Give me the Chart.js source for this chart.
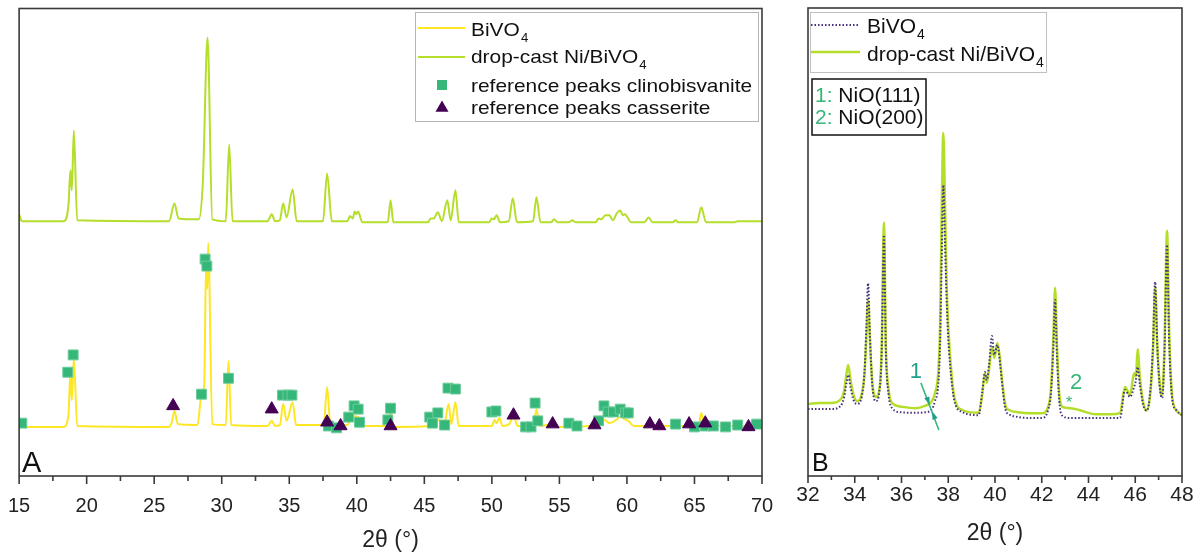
<!DOCTYPE html>
<html>
<head>
<meta charset="utf-8">
<script src="https://cdn.jsdelivr.net/npm/chart.js@4.4.1/dist/chart.umd.min.js"></script>
<style>
  html, body { margin: 0; padding: 0; background: #fff; overflow: hidden; }
  #wrap { position: relative; width: 1200px; height: 556px; overflow: hidden; }
  #chartA { position: absolute; left: -10px; top: 0; }
  #chartB { position: absolute; left: 789px; top: 0; }
</style>
</head>
<body>
<div id="wrap">
  <canvas id="chartA" width="803" height="556"></canvas>
  <canvas id="chartB" width="412" height="556"></canvas>
</div>
<script>
// ---- Panel A data (2theta in degrees, intensity in a.u., patterns offset) ----
var thetaA_bivo = [15.0, 18.3, 18.65, 18.8, 18.9, 19.05, 19.3, 26.1, 26.3, 26.5, 26.75, 28.2, 28.5, 28.7, 28.85, 28.93, 29.0, 29.3,
    30.3, 30.5, 30.7, 33.4, 33.7, 33.95, 34.3, 34.55, 34.8, 35.25, 35.5, 37.55, 37.8, 38.05, 39.3, 39.55, 39.85, 40.1, 40.4,
    42.3, 42.5, 42.7, 45.4, 45.7, 46.1, 46.45, 46.8, 47.0, 47.3, 47.55, 50.0, 50.2, 50.35, 50.55, 50.8, 51.3, 51.6, 51.9,
    53.1, 53.3, 53.55, 54.6, 54.85, 58.0, 58.35, 58.7, 59.3, 59.55, 59.8, 60.1, 60.5, 65.3, 65.5, 65.75, 70.0];
var intA_bivo = [10.5, 10.5, 13.0, 22.2, 16.2, 25.2, 10.7, 10.5, 11.5, 13.9, 11.1, 10.9, 17.3, 19.4, 46.5, 40.0, 49.8, 11.1,
    10.9, 24.6, 10.9, 10.7, 11.8, 10.7, 10.9, 15.4, 11.8, 15.8, 10.9, 10.9, 19.0, 10.9, 10.9, 12.4, 12.8, 12.6, 10.7,
    10.7, 13.9, 10.5, 10.7, 11.3, 12.0, 10.7, 15.4, 11.1, 15.8, 10.7, 10.7, 12.0, 11.3, 12.4, 10.7, 11.1, 13.0, 10.7,
    10.9, 14.3, 10.7, 11.1, 10.5, 10.9, 12.0, 11.3, 12.2, 12.8, 12.2, 11.8, 10.7, 10.7, 13.5, 10.7, 10.7];

var thetaA_ni = [15.0, 15.2, 18.3, 18.65, 18.8, 18.9, 19.05, 19.3, 26.1, 26.5, 26.8, 28.3, 28.6, 28.95, 29.3, 30.3, 30.55, 30.8,
    33.4, 33.7, 33.95, 34.3, 34.55, 34.8, 35.25, 35.55, 37.5, 37.8, 38.15, 39.3, 39.5, 39.7, 39.85, 39.95, 40.1, 40.4,
    42.3, 42.5, 42.7, 45.3, 45.45, 45.7, 46.0, 46.3, 46.7, 46.95, 47.3, 47.55, 49.8, 50.0, 50.15, 50.35, 50.6,
    51.25, 51.55, 51.85, 53.05, 53.3, 53.6, 54.4, 54.6, 54.85, 55.7, 55.95, 56.2, 57.7, 57.9, 58.1, 58.4, 58.7, 58.95,
    59.25, 59.5, 59.7, 59.85, 60.05, 60.3, 61.3, 61.6, 61.9, 63.4, 63.6, 63.8, 65.2, 65.5, 65.85, 68.0, 68.2, 70.0];
var intA_ni = [56.0, 54.5, 54.5, 57.9, 65.4, 61.1, 73.9, 54.7, 54.5, 58.3, 55.1, 54.9, 62.8, 93.8, 54.9, 54.5, 70.9, 54.5,
    54.5, 56.0, 54.5, 54.7, 58.3, 55.3, 61.3, 54.5, 54.5, 64.7, 54.5, 54.5, 55.6, 55.1, 56.6, 56.0, 56.6, 54.3,
    54.3, 59.0, 54.3, 54.3, 55.1, 55.1, 56.4, 54.5, 59.0, 54.7, 61.1, 54.3, 54.3, 55.1, 54.9, 55.8, 54.3,
    54.5, 59.4, 54.3, 54.5, 59.6, 54.3, 54.3, 54.9, 54.3, 54.3, 54.7, 54.3, 54.3, 55.1, 54.9, 55.8, 55.8, 54.7,
    56.2, 56.8, 55.8, 56.0, 55.3, 54.3, 54.3, 55.3, 54.3, 54.3, 54.7, 54.3, 54.3, 57.5, 54.3, 54.3, 54.5, 54.5];

// reference peak markers
var clinoTheta = [15.2, 18.6, 19.0, 28.5, 28.77, 28.9, 30.5, 34.5, 34.9, 35.2, 37.9, 38.5, 39.4, 39.8, 40.1, 40.2, 42.3, 42.5,
    45.4, 45.6, 46.0, 46.5, 46.75, 47.3, 50.0, 50.3, 52.5, 52.9, 53.2, 53.4, 55.7, 56.3, 57.9, 58.3, 58.6, 59.0, 59.5,
    59.9, 60.1, 63.6, 65.0, 65.8, 66.4, 67.3, 68.2, 69.6];
var clinoInt = [11.3, 22.2, 25.9, 17.5, 46.4, 44.9, 20.9, 17.3, 17.3, 17.3, 10.7, 10.3, 12.6, 15.0, 14.3, 11.5, 12.0, 14.5,
    12.6, 11.3, 13.5, 10.9, 18.8, 18.6, 13.7, 13.9, 10.5, 10.5, 15.6, 11.8, 11.3, 10.7, 11.8, 15.0, 13.7, 13.7, 14.3,
    13.5, 13.5, 11.1, 10.5, 10.7, 10.7, 10.5, 10.9, 11.1];
var cassTheta = [26.4, 33.7, 37.8, 38.8, 42.5, 51.6, 54.5, 57.6, 61.7, 62.4, 64.6, 65.8, 69.0];
var cassInt = [15.0, 14.3, 11.5, 10.7, 10.7, 13.0, 11.1, 10.9, 11.1, 10.7, 11.1, 11.3, 10.5];

// ---- Panel B data (zoom 32-48 deg) ----
var thetaB = [32.0, 32.5, 33.0, 33.4, 33.55, 33.65, 33.72, 33.82, 33.95, 34.1, 34.3, 34.42, 34.5, 34.57, 34.65, 34.75, 34.9,
    35.05, 35.15, 35.25, 35.33, 35.45, 35.6, 36.0, 36.6, 37.0, 37.29, 37.43, 37.57, 37.65, 37.72, 37.79, 37.86, 37.93,
    38.0, 38.15, 38.29, 38.6, 39.3, 39.45, 39.57, 39.65, 39.75, 39.87, 39.97, 40.1, 40.2, 40.3, 40.45, 40.6, 41.0, 41.5,
    42.0, 42.27, 42.4, 42.5, 42.57, 42.65, 42.75, 42.9, 43.2, 43.6, 44.3, 45.0, 45.35, 45.56, 45.78, 45.95, 46.03, 46.1,
    46.2, 46.35, 46.5, 46.65, 46.76, 46.85, 46.95, 47.07, 47.15, 47.25, 47.36, 47.45, 47.58, 47.75, 48.0];
var intB_ni = [15.4, 15.6, 15.6, 16.4, 18.4, 22.0, 23.7, 20.5, 17.3, 16.0, 17.5, 22.0, 30.0, 37.6, 29.0, 20.0, 16.9,
    18.4, 27.0, 54.1, 28.0, 18.4, 15.6, 14.8, 14.5, 15.0, 15.9, 17.7, 22.0, 31.9, 56.8, 73.3, 58.3, 41.2,
    31.9, 21.2, 16.2, 14.1, 13.5, 17.3, 22.0, 19.9, 23.0, 27.6, 25.2, 28.4, 25.5, 20.5, 15.0, 14.1, 13.6, 13.4,
    13.4, 14.7, 19.0, 30.0, 40.2, 28.0, 17.5, 14.7, 14.5, 14.1, 13.2, 13.2, 13.5, 19.0, 17.3, 22.0, 21.2, 27.1,
    21.0, 15.5, 14.0, 18.0, 27.0, 40.4, 27.0, 18.5, 17.3, 28.0, 52.4, 31.0, 17.0, 14.1, 13.0];
var intB_bivo = [14.3, 14.3, 14.3, 15.0, 17.0, 20.0, 21.6, 19.0, 16.2, 15.4, 17.0, 22.5, 32.0, 41.2, 30.0, 19.5, 16.0,
    17.9, 26.0, 51.5, 27.0, 17.3, 14.5, 13.6, 13.5, 13.6, 14.2, 16.0, 19.5, 28.0, 46.2, 62.2, 50.0, 38.0,
    29.5, 20.0, 15.5, 13.7, 13.0, 17.7, 22.2, 20.5, 24.0, 29.9, 25.9, 28.0, 25.0, 20.0, 14.2, 13.2, 12.6, 12.4,
    12.4, 14.1, 18.0, 28.0, 37.6, 26.0, 16.0, 12.8, 12.4, 12.4, 12.4, 12.4, 12.4, 18.4, 16.9, 19.0, 20.5, 23.3,
    19.5, 15.0, 14.0, 18.5, 28.0, 41.5, 27.0, 18.0, 16.7, 26.0, 49.4, 29.0, 16.5, 14.1, 13.0];

var YELLOW = '#fde725', LIME = '#b5de2b', GREEN = '#35b779', PURPLE = '#440154', DOTS = '#46307e', TEAL = '#1f9e89';
var FONT = '"Liberation Sans", Arial, sans-serif';
Chart.defaults.font.family = FONT;

function toXY(xs, ys) {
    return xs.map(function (x, i) { return { x: x, y: ys[i] }; });
}

// frame around plot area + outward ticks on the bottom axis
function framePlugin(major, minor, majorLen, minorLen) {
    return {
        id: 'frame',
        afterDraw: function (chart) {
            var ctx = chart.ctx, a = chart.chartArea, xs = chart.scales.x;
            ctx.save();
            ctx.strokeStyle = '#3a3a3a';
            ctx.lineWidth = 1.6;
            ctx.strokeRect(a.left, a.top, a.right - a.left, a.bottom - a.top);
            for (var v = xs.min; v <= xs.max + 1e-9; v += minor) {
                var px = xs.getPixelForValue(v);
                var isMajor = Math.abs(v / major - Math.round(v / major)) < 1e-6;
                ctx.beginPath();
                ctx.moveTo(px, a.bottom);
                ctx.lineTo(px, a.bottom + (isMajor ? majorLen : minorLen));
                ctx.stroke();
            }
            ctx.restore();
        }
    };
}

// text with optional subscript, sx = horizontal stretch
function textSub(ctx, x, y, main, sub, size, sx, color) {
    ctx.save();
    ctx.translate(x, y);
    ctx.scale(sx, 1);
    ctx.fillStyle = color || '#111';
    ctx.textBaseline = 'alphabetic';
    ctx.textAlign = 'left';
    ctx.font = size + 'px ' + FONT;
    ctx.fillText(main, 0, 0);
    var w = ctx.measureText(main).width;
    if (sub) {
        ctx.font = Math.round(size * 0.65) + 'px ' + FONT;
        ctx.fillText(sub, w + 1, size * 0.3);
    }
    ctx.restore();
    return w * sx;
}

function triangle(ctx, x, y, r) {
    ctx.beginPath();
    ctx.moveTo(x, y - r);
    ctx.lineTo(x + r * 0.866, y + r * 0.5);
    ctx.lineTo(x - r * 0.866, y + r * 0.5);
    ctx.closePath();
    ctx.fill();
}

var legendA = {
    id: 'legendA',
    afterDraw: function (chart) {
        var ctx = chart.ctx;
        ctx.save();
        ctx.translate(10, 0); // canvas A sits 10px left of the page
        ctx.strokeStyle = '#b5b5b5';
        ctx.lineWidth = 1;
        ctx.strokeRect(415.5, 12.5, 343, 109);
        ctx.lineWidth = 2;
        ctx.strokeStyle = YELLOW;
        ctx.beginPath(); ctx.moveTo(418, 28); ctx.lineTo(465, 28); ctx.stroke();
        ctx.strokeStyle = LIME;
        ctx.beginPath(); ctx.moveTo(418, 57); ctx.lineTo(465, 57); ctx.stroke();
        ctx.fillStyle = GREEN;
        ctx.fillRect(437, 80, 10, 10);
        ctx.fillStyle = PURPLE;
        triangle(ctx, 442, 108, 7.5);
        textSub(ctx, 471, 36, 'BiVO', '4', 19, 1.1);
        textSub(ctx, 471, 63, 'drop-cast Ni/BiVO', '4', 19, 1.1);
        textSub(ctx, 471, 92, 'reference peaks clinobisvanite', null, 19, 1.1);
        textSub(ctx, 471, 114, 'reference peaks casserite', null, 19, 1.1);
        ctx.fillStyle = '#111';
        ctx.font = '29px ' + FONT;
        ctx.textBaseline = 'alphabetic';
        ctx.fillText('A', 22, 472);
        ctx.restore();
    }
};

function arrowHead(ctx, x, y, ang, s) {
    ctx.save();
    ctx.translate(x, y);
    ctx.rotate(ang);
    ctx.beginPath();
    ctx.moveTo(s, 0);
    ctx.lineTo(-s * 0.6, s * 0.55);
    ctx.lineTo(-s * 0.6, -s * 0.55);
    ctx.closePath();
    ctx.fill();
    ctx.restore();
}

var legendB = {
    id: 'legendB',
    afterDraw: function (chart) {
        var ctx = chart.ctx, off = 789;
        var xs = chart.scales.x, ys = chart.scales.y;
        ctx.save();
        ctx.translate(-off, 0);
        ctx.strokeStyle = '#c0c0c0';
        ctx.lineWidth = 1;
        ctx.strokeRect(810.5, 12.5, 236, 60);
        ctx.lineWidth = 2;
        ctx.strokeStyle = DOTS;
        ctx.setLineDash([1.5, 2]);
        ctx.beginPath(); ctx.moveTo(811, 25); ctx.lineTo(859, 25); ctx.stroke();
        ctx.setLineDash([]);
        ctx.strokeStyle = LIME;
        ctx.lineWidth = 2.5;
        ctx.beginPath(); ctx.moveTo(811, 52); ctx.lineTo(860, 52); ctx.stroke();
        textSub(ctx, 867, 33, 'BiVO', '4', 21, 1);
        textSub(ctx, 867, 61, 'drop-cast Ni/BiVO', '4', 21, 1);

        ctx.strokeStyle = '#111';
        ctx.lineWidth = 1.5;
        ctx.strokeRect(812, 79, 114, 56);
        var w1 = textSub(ctx, 815, 102, '1: ', null, 21, 1, GREEN);
        textSub(ctx, 815 + w1, 102, 'NiO(111)', null, 21, 1);
        var w2 = textSub(ctx, 815, 124, '2: ', null, 21, 1, GREEN);
        textSub(ctx, 815 + w2, 124, 'NiO(200)', null, 21, 1);

        ctx.fillStyle = '#111';
        ctx.font = '25px ' + FONT;
        ctx.fillText('B', 812, 471);
        ctx.restore();

        // NiO annotations, placed in data coordinates
        function P(x, y) { return [xs.getPixelForValue(x), ys.getPixelForValue(y)]; }
        ctx.save();
        var a = P(36.83, 19.9), b = P(37.6, 9.8), h1 = P(37.13, 16.2), h2 = P(37.39, 12.8);
        var ang = Math.atan2(b[1] - a[1], b[0] - a[0]);
        ctx.strokeStyle = GREEN;
        ctx.fillStyle = TEAL;
        ctx.lineWidth = 1.5;
        ctx.beginPath(); ctx.moveTo(a[0], a[1]); ctx.lineTo(b[0], b[1]); ctx.stroke();
        arrowHead(ctx, h1[0], h1[1], ang, 5);
        arrowHead(ctx, h2[0], h2[1], ang + Math.PI, 5);
        ctx.font = '22px ' + FONT;
        ctx.textAlign = 'center';
        ctx.textBaseline = 'middle';
        var t1 = P(36.62, 22.2);
        ctx.fillText('1', t1[0], t1[1]);
        ctx.fillStyle = GREEN;
        var t2 = P(43.47, 19.9);
        ctx.fillText('2', t2[0], t2[1]);
        var st = P(43.17, 16.2);
        ctx.font = '16px ' + FONT;
        ctx.fillText('*', st[0], st[1] + 3);
        ctx.restore();
    }
};

var lineBase = { showLine: true, pointRadius: 0, borderWidth: 2, cubicInterpolationMode: 'monotone', fill: false };

new Chart(document.getElementById('chartA'), {
    type: 'scatter',
    data: {
        datasets: [
            { label: 'reference peaks casserite', data: toXY(cassTheta, cassInt), pointStyle: 'triangle',
              pointRadius: 7.5, backgroundColor: PURPLE, borderColor: PURPLE, borderWidth: 1 },
            { label: 'reference peaks clinobisvanite', data: toXY(clinoTheta, clinoInt), pointStyle: 'rect',
              pointRadius: 7, backgroundColor: GREEN, borderColor: '#6ccb9a', borderWidth: 1 },
            Object.assign({ label: 'BiVO4', data: toXY(thetaA_bivo, intA_bivo), borderColor: YELLOW }, lineBase),
            Object.assign({ label: 'drop-cast Ni/BiVO4', data: toXY(thetaA_ni, intA_ni), borderColor: LIME }, lineBase)
        ]
    },
    options: {
        responsive: false,
        animation: false,
        layout: { padding: { left: 29, right: 31, top: 8, bottom: 0 } },
        plugins: { legend: { display: false }, tooltip: { enabled: false } },
        scales: {
            x: {
                type: 'linear', min: 15, max: 70,
                grid: { display: false, drawTicks: false }, border: { display: false },
                ticks: { stepSize: 5, padding: 18, color: '#222', font: { size: 20 } },
                title: { display: true, text: '2θ (°)', color: '#222', font: { size: 23 }, padding: { top: 0, bottom: 2 } },
                afterFit: function (s) { s.height = 80; }
            },
            y: { display: false, min: 0, max: 100 }
        }
    },
    plugins: [framePlugin(5, 2.5, 8, 5), legendA]
});

new Chart(document.getElementById('chartB'), {
    type: 'scatter',
    data: {
        datasets: [
            Object.assign({}, lineBase, { label: 'BiVO4', data: toXY(thetaB, intB_bivo), borderColor: DOTS, borderDash: [1.5, 2] }),
            Object.assign({}, lineBase, { label: 'drop-cast Ni/BiVO4', data: toXY(thetaB, intB_ni), borderColor: LIME, borderWidth: 2.5 })
        ]
    },
    options: {
        responsive: false,
        animation: false,
        layout: { padding: { left: 19, right: 19, top: 8, bottom: 0 } },
        plugins: { legend: { display: false }, tooltip: { enabled: false } },
        scales: {
            x: {
                type: 'linear', min: 32, max: 48,
                grid: { display: false, drawTicks: false }, border: { display: false },
                ticks: { stepSize: 2, padding: 7, color: '#222', font: { size: 21 } },
                title: { display: true, text: '2θ (°)', color: '#222', font: { size: 23 }, padding: { top: 0, bottom: 9 } },
                afterFit: function (s) { s.height = 80; }
            },
            y: { display: false, min: 0, max: 100 }
        }
    },
    plugins: [framePlugin(2, 1, 7, 4), legendB]
});
</script>
</body>
</html>
